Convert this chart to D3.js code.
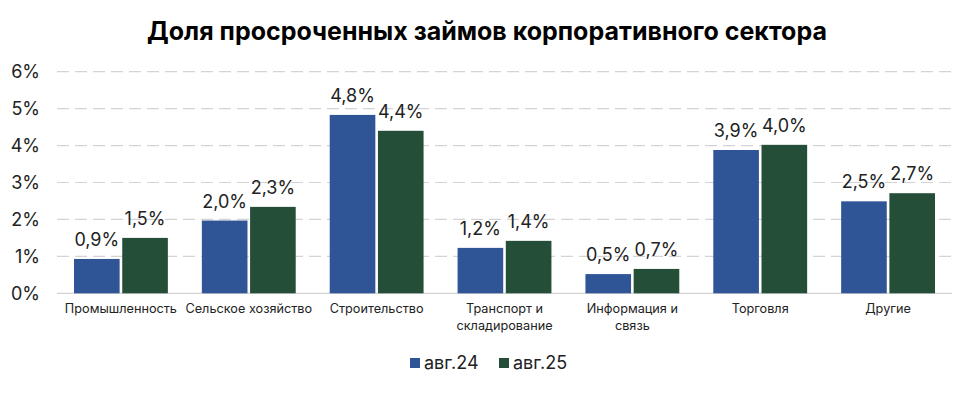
<!DOCTYPE html>
<html><head><meta charset="utf-8">
<script src="https://cdn.jsdelivr.net/npm/d3@7"></script>
<style>body{margin:0;background:#fff;font-family:Inter,"Noto Sans",sans-serif;}</style>
</head><body><svg id="c" width="974" height="393"></svg>
<script>
const title = "Доля просроченных займов корпоративного сектора";
const categories = [["Промышленность"],["Сельское хозяйство"],["Строительство"],["Транспорт и","складирование"],["Информация и","связь"],["Торговля"],["Другие"]];
const seriesNames = ["авг.24","авг.25"];
const aug24 = [0.93,1.97,4.83,1.23,0.52,3.88,2.49];
const aug25 = [1.50,2.34,4.40,1.42,0.66,4.02,2.71];
const yTicks = [0,1,2,3,4,5,6];
const colors = ["#2F5597","#254E39"];

const svg = d3.select("#c");
const x0 = d3.scaleBand().domain(d3.range(categories.length)).range([57,952]).paddingInner(0).paddingOuter(0);
const x1 = d3.scaleBand().domain([0,1]).range([17, x0.bandwidth()-17]).paddingInner(0.054);
const y = d3.scaleLinear().domain([0,6]).range([293.3,71.7]);

svg.append("text").attr("x",487).attr("y",40).attr("text-anchor","middle")
  .attr("font-size",25).attr("font-weight",700).attr("fill","#000").text(title);

// gridlines
svg.append("g").selectAll("line").data(yTicks.filter(d=>d>0)).join("line")
  .attr("x1",57).attr("x2",952).attr("y1",d=>y(d)).attr("y2",d=>y(d))
  .attr("stroke","#d3d3d3").attr("stroke-width",1.2).attr("stroke-dasharray","12,6");
svg.append("line").attr("x1",57).attr("x2",952).attr("y1",y(0)).attr("y2",y(0))
  .attr("stroke","#d3d3d3").attr("stroke-width",1.2);

// y labels
svg.append("g").selectAll("text").data(yTicks).join("text")
  .attr("x",40).attr("y",d=>y(d)).attr("dy","0.35em").attr("text-anchor","end")
  .attr("font-size",18).attr("fill","#222").text(d=>d+"%");

const data = [aug24, aug25];
const fmt = v => v.toFixed(1).replace(".",",")+"%";
data.forEach((arr,si)=>{
  const g = svg.append("g");
  g.selectAll("rect").data(arr).join("rect")
    .attr("x",(d,i)=>x0(i)+x1(si)).attr("width",x1.bandwidth())
    .attr("y",d=>y(d)).attr("height",d=>y(0)-y(d)).attr("fill",colors[si]);
  g.selectAll("text").data(arr).join("text")
    .attr("x",(d,i)=>x0(i)+x1(si)+x1.bandwidth()/2).attr("y",d=>y(d)-13)
    .attr("text-anchor","middle").attr("font-size",18).attr("fill","#222").text(fmt);
});

// category labels
const cg = svg.append("g");
categories.forEach((lines,i)=>{
  const t = cg.append("text").attr("x",x0(i)+x0.bandwidth()/2).attr("y",313)
    .attr("text-anchor","middle").attr("font-size",12.7).attr("fill","#222");
  lines.forEach((ln,k)=>t.append("tspan").attr("x",x0(i)+x0.bandwidth()/2).attr("dy",k?17:0).text(ln));
});

// legend
const lx = [410,499];
seriesNames.forEach((n,i)=>{
  svg.append("rect").attr("x",lx[i]).attr("y",358).attr("width",10).attr("height",10).attr("fill",colors[i]);
  svg.append("text").attr("x",lx[i]+14).attr("y",363).attr("dy","0.35em").attr("font-size",18).attr("fill","#222").text(n);
});
</script></body></html>
